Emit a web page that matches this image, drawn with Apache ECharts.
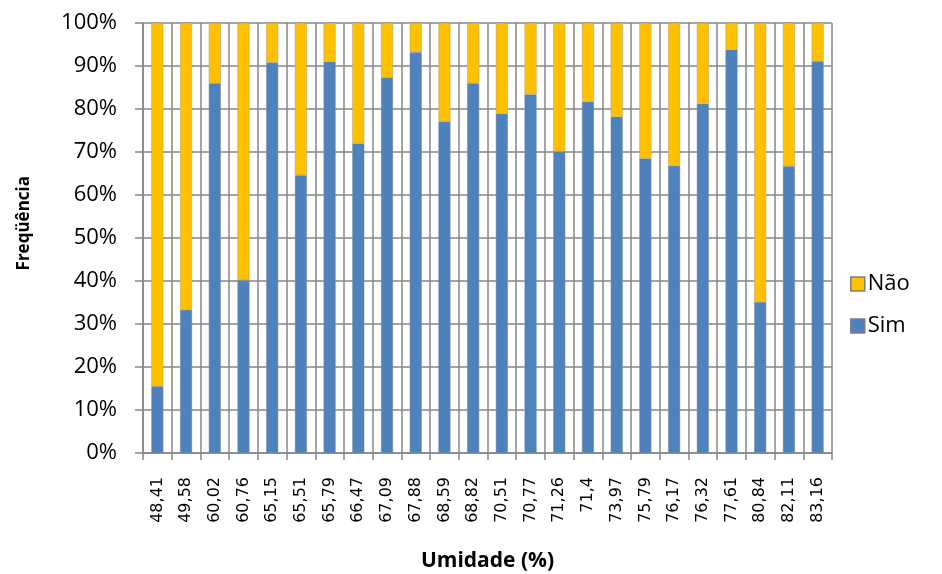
<!DOCTYPE html>
<html>
<head>
<meta charset="utf-8">
<script src="https://cdn.jsdelivr.net/npm/echarts@6/dist/echarts.min.js"></script>
<style>
html,body{margin:0;padding:0;background:#fff;}
#c{width:942px;height:574px;}
</style>
</head>
<body>
<div id="c"></div>
<script>
const categories = ["48,41","49,58","60,02","60,76","65,15","65,51","65,79","66,47","67,09","67,88","68,59","68,82","70,51","70,77","71,26","71,4","73,97","75,79","76,17","76,32","77,61","80,84","82,11","83,16"];
const simValues = [15.5,33.3,86.0,40.2,90.8,64.6,91.0,72.0,87.3,93.2,77.1,86.0,78.9,83.4,70.1,81.7,78.2,68.5,66.8,81.2,93.8,35.1,66.7,91.1];
const naoValues = [84.5,66.7,14.0,59.8,9.2,35.4,9.0,28.0,12.7,6.8,22.9,14.0,21.1,16.6,29.9,18.3,21.8,31.5,33.2,18.8,6.2,64.9,33.3,8.9];
const yTicks = [0,10,20,30,40,50,60,70,80,90,100];

const chart = echarts.init(document.getElementById('c'));
const gray = '#868686';
chart.setOption({
  animation: false,
  backgroundColor: '#fff',
  grid: {left: 143, right: 110, top: 23, bottom: 121, containLabel: false, outerBoundsMode: 'none'},
  legend: {
    orient: 'vertical', left: 845, top: 268,
    data: ['Não','Sim'],
    itemWidth: 14, itemHeight: 14, itemGap: 20,
    icon: 'rect',
    itemStyle: {borderColor: '#7f7f7f', borderWidth: 1.5},
    textStyle: {fontFamily: 'Open Sans', fontSize: 22, color: '#000', padding: [0,0,0,-2]}
  },
  graphic: [{
    type: 'text', left: 16, top: 176, rotation: Math.PI / 2,
    style: {text: 'Freqüência', font: 'bold 17px "Open Sans"', fill: '#000'}
  }],
  xAxis: {
    type: 'category',
    data: categories,
    name: 'Umidade (%)',
    nameLocation: 'middle',
    nameGap: 98,
    nameTextStyle: {fontFamily: 'Open Sans', fontWeight: 'bold', fontSize: 21, color: '#000'},
    axisLine: {lineStyle: {color: gray, width: 1.5}},
    axisTick: {show: true, length: 7, lineStyle: {color: gray, width: 1.5}},
    axisLabel: {rotate: 90, fontFamily: 'DejaVu Sans', fontSize: 16, color: '#000', margin: 24, interval: 0},
    splitLine: {show: true, interval: 0, lineStyle: {color: gray, width: 1.5}}
  },
  yAxis: {
    type: 'value',
    min: 0, max: 100, interval: 10,
    axisLine: {show: true, lineStyle: {color: gray, width: 1.5}},
    axisTick: {show: true, length: 8, lineStyle: {color: gray, width: 1.5}},
    axisLabel: {
      fontFamily: 'Open Sans', fontSize: 22, color: '#000', margin: 26,
      formatter: v => (yTicks.includes(v) ? v + '%' : '')
    },
    splitLine: {show: true, lineStyle: {color: gray, width: 1.5}}
  },
  series: [
    {name: 'Sim', type: 'bar', stack: 't', data: simValues, barWidth: 12,
     itemStyle: {color: '#4F81BD', borderColor: '#7d8da0', borderWidth: 0.5}},
    {name: 'Não', type: 'bar', stack: 't', data: naoValues, barWidth: 12,
     itemStyle: {color: '#FFC000', borderColor: '#b0a070', borderWidth: 0.5}}
  ]
});
</script>
</body>
</html>
